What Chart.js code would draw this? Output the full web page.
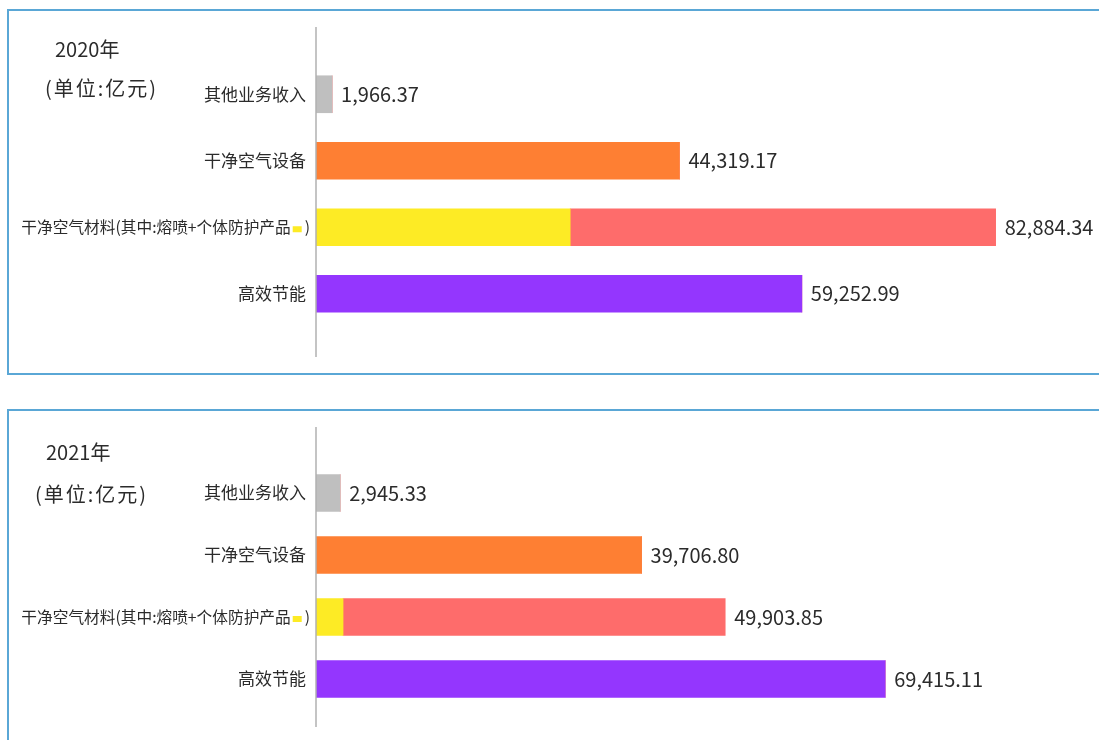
<!DOCTYPE html>
<html>
<head>
<meta charset="utf-8">
<script src="https://cdn.jsdelivr.net/npm/chart.js@4/dist/chart.umd.min.js"></script>
<style>
    html, body { margin: 0; padding: 0; background: #ffffff; overflow: hidden; width: 1099px; height: 740px; }
    .panel { position: absolute; left: 7px; width: 1120px; border: 2px solid #5aa7d6; background: #fff; }
    #panel-2020 { top: 9px; height: 362px; }
    #panel-2021 { top: 409px; height: 340px; }
    .panel canvas { position: absolute; left: 0; top: 0; }
</style>
</head>
<body>
<div class="panel" id="panel-2020"><canvas id="grafico-2020" width="1090" height="362"></canvas></div>
<div class="panel" id="panel-2021"><canvas id="grafico-2021" width="1090" height="330"></canvas></div>

<script>
const categories = ['其他业务收入', '干净空气设备', '干净空气材料(其中:熔喷+个体防护产品', '高效节能'];

const totals2020 = [1966.37, 44319.17, 82884.34, 59252.99];
const meltblown2020 = 31000;   // yellow part of the materials bar (estimated)

const totals2021 = [2945.33, 39706.80, 49903.85, 69415.11];
const meltblown2021 = 3300;

const barColors = ['#bfbfbf', '#fe7f33', '#fdeb25', '#9436fe'];
const restColor = '#fe6c6b';
const materialIndex = 2;

const fontFamily = '"Noto Sans CJK SC", "Noto Sans", sans-serif';
const textColor = '#2b2b2b';

function fmt(v) {
    return v.toLocaleString('en-US', { minimumFractionDigits: 2, maximumFractionDigits: 2 });
}

function labelsPlugin(yearText, totals, pos) {
    return {
        id: 'labels',
        afterDraw(chart) {
            const ctx = chart.ctx;
            const x = chart.scales.x;
            const y = chart.scales.y;
            const area = chart.chartArea;
            const zero = x.getPixelForValue(0);

            ctx.save();
            // axis line
            ctx.strokeStyle = '#b0b0b0';
            ctx.lineWidth = 1.5;
            ctx.beginPath();
            ctx.moveTo(zero, 16);
            ctx.lineTo(zero, area.bottom + pos.axisExtra);
            ctx.stroke();

            ctx.fillStyle = textColor;
            ctx.textBaseline = 'middle';

            // titles
            ctx.textAlign = 'left';
            ctx.font = '20px ' + fontFamily;
            ctx.fillText(yearText, pos.x1, pos.y1);
            ctx.letterSpacing = '2px';
            ctx.fillText('(单位:亿元)', pos.x2, pos.y2);
            ctx.letterSpacing = '0px';

            // category labels
            ctx.textAlign = 'right';
            categories.forEach((cat, i) => {
                const cy = y.getPixelForValue(i);
                if (i === materialIndex) {
                    ctx.font = '15.7px ' + fontFamily;
                    const closeW = ctx.measureText(')').width;
                    const markW = 9;
                    const right = zero - 6;
                    ctx.fillText(')', right, cy);
                    ctx.fillStyle = barColors[materialIndex];
                    ctx.fillRect(right - closeW - markW - 3, cy - 1, markW, 6);
                    ctx.fillStyle = textColor;
                    ctx.fillText(cat, right - closeW - markW - 5, cy);
                } else {
                    ctx.font = '17px ' + fontFamily;
                    ctx.fillText(cat, zero - 10, cy);
                }
            });

            // value labels
            ctx.textAlign = 'left';
            ctx.font = '20px ' + fontFamily;
            totals.forEach((v, i) => {
                ctx.fillText(fmt(v), x.getPixelForValue(v) + 9, y.getPixelForValue(i));
            });
            ctx.restore();
        }
    };
}

function buildChart(canvasId, yearText, totals, meltblown, padding, pos) {
    const base = totals.map((v, i) => i === materialIndex ? meltblown : v);
    const rest = totals.map((v, i) => i === materialIndex ? v - meltblown : 0);
    const ctx = document.getElementById(canvasId).getContext('2d');

    return new Chart(ctx, {
        type: 'bar',
        data: {
            labels: categories,
            datasets: [
                {
                    data: base,
                    backgroundColor: barColors,
                    borderWidth: 0,
                    barThickness: 37
                },
                {
                    data: rest,
                    backgroundColor: restColor,
                    borderWidth: 0,
                    barThickness: 37
                }
            ]
        },
        options: {
            indexAxis: 'y',
            responsive: false,
            animation: false,
            layout: { padding: padding },
            plugins: {
                legend: { display: false },
                tooltip: { enabled: false }
            },
            scales: {
                x: {
                    display: false,
                    stacked: true,
                    min: 0,
                    max: 90000
                },
                y: {
                    display: false,
                    stacked: true
                }
            }
        },
        plugins: [labelsPlugin(yearText, totals, pos)]
    });
}

buildChart('grafico-2020', '2020年', totals2020, meltblown2020,
    { left: 307, right: 45, top: 50, bottom: 46 },
    { x1: 46, y1: 38, x2: 36, y2: 77, axisExtra: 30 });

buildChart('grafico-2021', '2021年', totals2021, meltblown2021,
    { left: 307, right: 45, top: 51, bottom: 31 },
    { x1: 37, y1: 41, x2: 26, y2: 83, axisExtra: 17 });
</script>
</body>
</html>
